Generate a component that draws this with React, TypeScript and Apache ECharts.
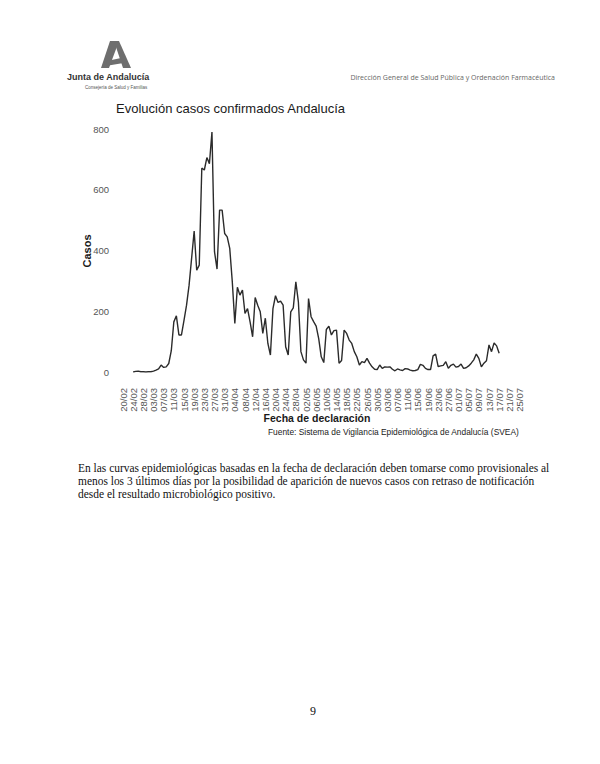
import React, { useEffect, useRef } from "react";
import * as echarts from "echarts";

// Daily declaration dates (2020), 20/02 .. 25/07
const fechas: string[] = [
  "20/02","21/02","22/02","23/02","24/02","25/02","26/02","27/02","28/02","29/02",
  "01/03","02/03","03/03","04/03","05/03","06/03","07/03","08/03","09/03","10/03","11/03","12/03","13/03","14/03","15/03","16/03","17/03","18/03","19/03","20/03","21/03","22/03","23/03","24/03","25/03","26/03","27/03","28/03","29/03","30/03","31/03",
  "01/04","02/04","03/04","04/04","05/04","06/04","07/04","08/04","09/04","10/04","11/04","12/04","13/04","14/04","15/04","16/04","17/04","18/04","19/04","20/04","21/04","22/04","23/04","24/04","25/04","26/04","27/04","28/04","29/04","30/04",
  "01/05","02/05","03/05","04/05","05/05","06/05","07/05","08/05","09/05","10/05","11/05","12/05","13/05","14/05","15/05","16/05","17/05","18/05","19/05","20/05","21/05","22/05","23/05","24/05","25/05","26/05","27/05","28/05","29/05","30/05","31/05",
  "01/06","02/06","03/06","04/06","05/06","06/06","07/06","08/06","09/06","10/06","11/06","12/06","13/06","14/06","15/06","16/06","17/06","18/06","19/06","20/06","21/06","22/06","23/06","24/06","25/06","26/06","27/06","28/06","29/06","30/06",
  "01/07","02/07","03/07","04/07","05/07","06/07","07/07","08/07","09/07","10/07","11/07","12/07","13/07","14/07","15/07","16/07","17/07","18/07","19/07","20/07","21/07","22/07","23/07","24/07","25/07"
];

// First date with a value
const primeraFecha = "24/02";

// Confirmed cases per declaration date, from 24/02 to 17/07
const casos: number[] = [
  0, 2, 3, 1, 1, 0, 1, 1, 3, 6,
  10, 23, 15, 17, 28, 70, 165, 185, 122, 122,
  170, 220, 286, 375, 464, 335, 352, 671, 665, 706,
  686, 790, 396, 339, 533, 533, 456, 445, 407, 297,
  160, 279, 253, 270, 193, 209, 165, 116, 245, 220,
  198, 127, 177, 94, 56, 209, 251, 229, 233, 220,
  83, 56, 198, 211, 297, 231, 67, 40, 29, 242,
  182, 166, 151, 110, 50, 31, 140, 151, 122, 136,
  138, 29, 38, 138, 127, 105, 94, 67, 50, 23,
  34, 31, 45, 29, 17, 9, 8, 23, 12, 17,
  16, 17, 9, 4, 10, 7, 5, 11, 10, 6,
  4, 5, 8, 25, 22, 12, 8, 8, 53, 59,
  18, 20, 22, 34, 12, 22, 26, 16, 18, 26,
  12, 14, 20, 29, 40, 59, 45, 17, 29, 37,
  89, 67, 96, 86, 62
];

const yTicks = [0, 200, 400, 600, 800];

const parrafo: string[] = [
  "En las curvas epidemiológicas basadas en la fecha de declaración deben tomarse como provisionales al",
  "menos los 3 últimos días por la posibilidad de aparición de nuevos casos con retraso de notificación",
  "desde el resultado microbiológico positivo."
];

export default function App() {
  const ref = useRef<HTMLDivElement>(null);

  useEffect(() => {
    if (!ref.current) return;
    const chart = echarts.init(ref.current, undefined, { renderer: "svg" });
    const start = fechas.indexOf(primeraFecha);
    const serie = fechas.map((_, i) => {
      const k = i - start;
      return k >= 0 && k < casos.length ? casos[k] : null;
    });

    const sans = "Liberation Sans, Arial, sans-serif";
    const serif = "Liberation Serif, Times New Roman, serif";

    chart.setOption({
      animation: false,
      backgroundColor: "#ffffff",
      title: {
        text: "Evolución casos confirmados Andalucía",
        left: 111,
        top: 97,
        textStyle: { fontFamily: sans, fontSize: 13, fontWeight: "normal", color: "#1a1a1a" },
      },
      grid: { left: 123, right: 80.5, top: 129, bottom: 392 },
      xAxis: {
        type: "category",
        data: fechas,
        boundaryGap: false,
        axisLine: { show: false },
        axisTick: { show: false },
        splitLine: { show: false },
        axisLabel: {
          interval: 3,
          rotate: 90,
          margin: 16,
          fontFamily: sans,
          fontSize: 9.5,
          color: "#555555",
        },
      },
      yAxis: {
        type: "value",
        min: yTicks[0],
        max: yTicks[yTicks.length - 1],
        interval: 200,
        axisLine: { show: false },
        axisTick: { show: false },
        splitLine: { show: false },
        axisLabel: { margin: 14, fontFamily: sans, fontSize: 9.5, color: "#555555" },
      },
      series: [
        {
          type: "line",
          data: serie,
          showSymbol: false,
          symbol: "none",
          connectNulls: false,
          lineStyle: { color: "#2b2b2b", width: 1.4 },
        },
      ],
      graphic: [
        // Logo "A"
        { type: "polygon", shape: { points: [[110, 41], [119, 41], [109, 68], [101, 68]] }, style: { fill: "#6e6e6e" } },
        { type: "polygon", shape: { points: [[114, 41], [119, 41], [131, 68], [123, 68]] }, style: { fill: "#6e6e6e" } },
        { type: "polygon", shape: { points: [[107, 61], [121, 58], [123.5, 63], [105.5, 66]] }, style: { fill: "#6e6e6e" } },
        {
          type: "text", x: 67, y: 77,
          style: { text: "Junta de Andalucía", fontFamily: sans, fontSize: 9, fontWeight: "bold", fill: "#333333", textVerticalAlign: "middle" },
        },
        {
          type: "text", x: 85, y: 87,
          style: { text: "Consejería de Salud y Familias", fontFamily: sans, fontSize: 4.5, fill: "#555555", textVerticalAlign: "middle" },
        },
        {
          type: "text", x: 555, y: 77,
          style: { text: "Dirección General de Salud Pública y Ordenación Farmacéutica", fontFamily: "Open Sans, sans-serif", fontSize: 7, fill: "#666666", textAlign: "right", textVerticalAlign: "middle" },
        },
        // Axis titles
        {
          type: "text", x: 87, y: 251, rotation: Math.PI / 2,
          style: { text: "Casos", fontFamily: sans, fontSize: 11, fontWeight: "bold", fill: "#1a1a1a", textAlign: "center", textVerticalAlign: "middle" },
        },
        {
          type: "text", x: 317, y: 418,
          style: { text: "Fecha de declaración", fontFamily: sans, fontSize: 10.5, fontWeight: "bold", fill: "#1a1a1a", textAlign: "center", textVerticalAlign: "middle" },
        },
        {
          type: "text", x: 268, y: 432,
          style: { text: "Fuente: Sistema de Vigilancia Epidemiológica de Andalucía (SVEA)", fontFamily: sans, fontSize: 8.4, fill: "#1a1a1a", textVerticalAlign: "middle" },
        },
        ...parrafo.map((t, i) => ({
          type: "text", x: 78, y: 468 + i * 13.2,
          style: { text: t, fontFamily: serif, fontSize: 11.45, fill: "#111111", textVerticalAlign: "middle" },
        })),
        {
          type: "text", x: 313, y: 711,
          style: { text: "9", fontFamily: serif, fontSize: 12, fill: "#111111", textAlign: "center", textVerticalAlign: "middle" },
        },
      ],
    });

    return () => chart.dispose();
  }, []);

  return (
    <div
      ref={ref}
      style={{ position: "fixed", left: 0, top: 0, width: 600, height: 764, background: "#ffffff" }}
    />
  );
}
